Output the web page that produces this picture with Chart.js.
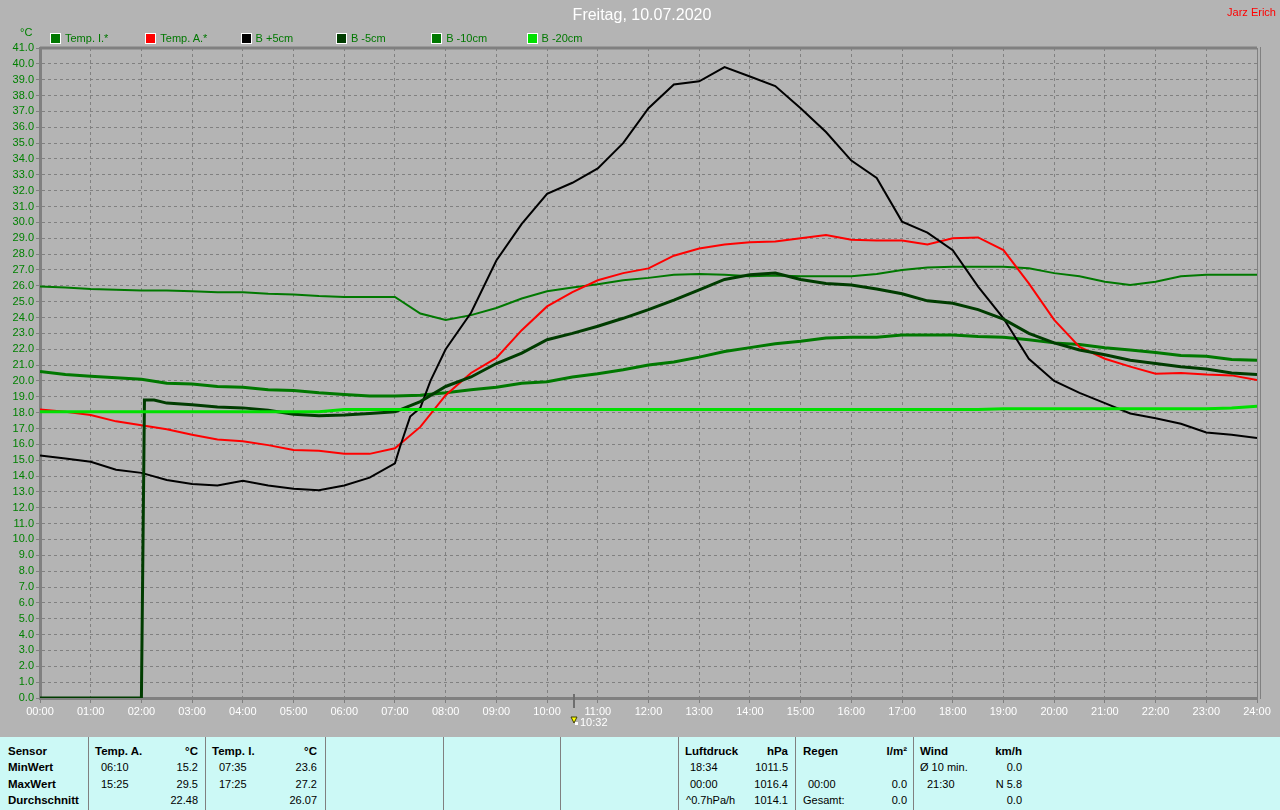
<!DOCTYPE html>
<html>
<head>
<meta charset="utf-8">
<script src="https://cdn.jsdelivr.net/npm/chart.js@4"></script>
<style>
body{margin:0;background:#b4b4b4;width:1280px;height:810px;overflow:hidden;position:relative;font-family:"Liberation Sans",Arial,sans-serif;}
#wrap{position:absolute;left:0;top:0;width:1280px;height:737px;}
.t{position:absolute;white-space:nowrap;line-height:14px;}
#title{left:0;width:1284px;top:6px;text-align:center;color:#fff;font-size:16px;line-height:18px;}
#author{right:4px;top:5px;color:#f00;font-size:11px;}
#unit{left:20px;top:25px;color:#008000;font-size:11px;}
.lbox{position:absolute;width:9px;height:9px;border:1px solid #fff;top:33px;}
.ltxt{position:absolute;top:31px;color:#007800;font-size:11px;line-height:14px;white-space:nowrap;}
#table{position:absolute;left:0;top:737px;width:1280px;height:73px;background:#ccf9f6;font-size:11px;color:#000;}
.sep{position:absolute;top:0;width:1px;height:73px;background:#808080;}
.b{font-weight:bold;font-size:11.5px;}
.r{text-align:right;}
</style>
</head>
<body>
<div id="wrap"><canvas id="myChart" width="1280" height="737"></canvas></div>
<div class="t" id="title">Freitag, 10.07.2020</div>
<div class="t" id="author">Jarz Erich</div>
<div class="t" id="unit">°C</div>
<div id="legend"></div>

<div id="table">
  <div class="sep" style="left:88px"></div>
  <div class="sep" style="left:205px"></div>
  <div class="sep" style="left:325px"></div>
  <div class="sep" style="left:443px"></div>
  <div class="sep" style="left:560px"></div>
  <div class="sep" style="left:678px"></div>
  <div class="sep" style="left:795px"></div>
  <div class="sep" style="left:913px"></div>

  <div class="t b" style="left:8px;top:7px">Sensor</div>
  <div class="t b" style="left:8px;top:23px">MinWert</div>
  <div class="t b" style="left:8px;top:40px">MaxWert</div>
  <div class="t b" style="left:8px;top:56px">Durchschnitt</div>

  <div class="t b" style="left:95px;top:7px">Temp. A.</div>
  <div class="t b r" style="right:1082px;top:7px">°C</div>
  <div class="t" style="left:101px;top:23px">06:10</div>
  <div class="t r" style="right:1082px;top:23px">15.2</div>
  <div class="t" style="left:101px;top:40px">15:25</div>
  <div class="t r" style="right:1082px;top:40px">29.5</div>
  <div class="t r" style="right:1082px;top:56px">22.48</div>

  <div class="t b" style="left:212px;top:7px">Temp. I.</div>
  <div class="t b r" style="right:963px;top:7px">°C</div>
  <div class="t" style="left:219px;top:23px">07:35</div>
  <div class="t r" style="right:963px;top:23px">23.6</div>
  <div class="t" style="left:219px;top:40px">17:25</div>
  <div class="t r" style="right:963px;top:40px">27.2</div>
  <div class="t r" style="right:963px;top:56px">26.07</div>

  <div class="t b" style="left:685px;top:7px">Luftdruck</div>
  <div class="t b r" style="right:492px;top:7px">hPa</div>
  <div class="t" style="left:690px;top:23px">18:34</div>
  <div class="t r" style="right:492px;top:23px">1011.5</div>
  <div class="t" style="left:690px;top:40px">00:00</div>
  <div class="t r" style="right:492px;top:40px">1016.4</div>
  <div class="t" style="left:686px;top:56px">^0.7hPa/h</div>
  <div class="t r" style="right:492px;top:56px">1014.1</div>

  <div class="t b" style="left:803px;top:7px">Regen</div>
  <div class="t b r" style="right:373px;top:7px">l/m²</div>
  <div class="t" style="left:808px;top:40px">00:00</div>
  <div class="t r" style="right:373px;top:40px">0.0</div>
  <div class="t" style="left:803px;top:56px">Gesamt:</div>
  <div class="t r" style="right:373px;top:56px">0.0</div>

  <div class="t b" style="left:920px;top:7px">Wind</div>
  <div class="t b r" style="right:258px;top:7px">km/h</div>
  <div class="t" style="left:920px;top:23px">Ø 10 min.</div>
  <div class="t r" style="right:258px;top:23px">0.0</div>
  <div class="t" style="left:927px;top:40px">21:30</div>
  <div class="t r" style="right:258px;top:40px">N 5.8</div>
  <div class="t r" style="right:258px;top:56px">0.0</div>
</div>

<script>
// time axis (hours since midnight)
const hours = [0,0.5,1,1.5,2,2.5,3,3.5,4,4.5,5,5.5,6,6.5,7,7.5,8,8.5,9,9.5,10,10.5,11,11.5,
  12,12.5,13,13.5,14,14.5,15,15.5,16,16.5,17,17.5,18,18.5,19,19.5,20,20.5,21,21.5,22,22.5,23,23.5,24];
const hoursPlus5 = [0,0.5,1,1.5,2,2.5,3,3.5,4,4.5,5,5.5,6,6.5,7,7.1,7.3,7.5,7.7,8,8.5,9,9.5,10,10.5,11,11.5,
  12,12.5,13,13.5,14,14.5,15,15.5,16,16.5,17,17.5,18,18.5,19,19.5,20,20.5,21,21.5,22,22.5,23,23.5,24];
const hoursMinus5 = [0,2,2.06,2.25,2.5,3,3.5,4,4.5,5,5.5,6,6.5,7,7.5,8,8.5,9,9.5,10,10.5,11,11.5,
  12,12.5,13,13.5,14,14.5,15,15.5,16,16.5,17,17.5,18,18.5,19,19.5,20,20.5,21,21.5,22,22.5,23,23.5,24];

// series values in °C
const tempI = [25.95,25.9,25.8,25.75,25.7,25.7,25.65,25.6,25.6,25.5,25.45,25.35,25.3,25.3,25.3,24.25,23.85,24.15,
  24.6,25.2,25.65,25.9,26.1,26.35,26.5,26.7,26.75,26.7,26.6,26.65,26.6,26.6,26.6,26.75,27.0,27.15,27.2,27.2,
  27.2,27.1,26.8,26.6,26.25,26.05,26.25,26.6,26.7,26.7,26.7];
const tempA = [18.2,18.05,17.85,17.45,17.2,16.95,16.6,16.3,16.2,15.95,15.65,15.6,15.4,15.4,15.75,17.1,19.1,20.5,
  21.45,23.2,24.7,25.6,26.35,26.8,27.1,27.9,28.35,28.6,28.75,28.8,29.0,29.2,28.9,28.85,28.85,28.6,29.0,29.05,
  28.25,26.15,23.85,22.15,21.4,20.9,20.45,20.5,20.4,20.35,20.05];
const soilPlus5 = [15.3,15.1,14.9,14.4,14.2,13.75,13.5,13.4,13.7,13.4,13.2,13.1,13.4,13.9,14.8,15.85,17.75,18.3,20.0,
  22.0,24.3,27.6,29.9,31.8,32.5,33.4,35.0,37.2,38.7,38.9,39.8,39.2,38.6,37.2,35.7,33.9,32.8,30.05,29.35,28.25,
  25.95,23.95,21.4,20.0,19.25,18.6,17.95,17.65,17.3,16.75,16.6,16.4];
const soilMinus5 = [0,0,18.8,18.8,18.6,18.5,18.35,18.3,18.15,17.9,17.8,17.85,17.95,18.05,18.7,19.65,20.25,21.1,
  21.75,22.6,23.0,23.45,23.95,24.5,25.1,25.75,26.4,26.7,26.8,26.4,26.15,26.05,25.8,25.5,25.05,24.9,24.5,23.9,
  23.0,22.4,21.95,21.65,21.3,21.1,20.9,20.75,20.5,20.4];
const soilMinus10 = [20.6,20.4,20.3,20.2,20.1,19.85,19.8,19.65,19.6,19.45,19.4,19.25,19.15,19.05,19.05,19.1,19.25,
  19.45,19.6,19.85,19.95,20.25,20.45,20.7,21.0,21.2,21.5,21.85,22.1,22.35,22.5,22.7,22.75,22.75,22.9,22.9,22.9,
  22.8,22.75,22.6,22.4,22.3,22.1,21.95,21.8,21.6,21.55,21.35,21.3];
const soilMinus20 = [18.05,18.05,18.05,18.05,18.05,18.05,18.05,18.05,18.05,18.05,18.05,18.05,
  18.2,18.2,18.2,18.2,18.2,18.2,18.2,18.2,18.2,18.2,18.2,18.2,18.2,18.2,18.2,18.2,18.2,18.2,18.2,18.2,18.2,
  18.2,18.2,18.2,18.2,18.2,18.25,18.25,18.25,18.25,18.25,18.25,18.25,18.25,18.25,18.3,18.4];

const seriesNames = ["Temp. I.*","Temp. A.*","B +5cm","B -5cm","B -10cm","B -20cm"];
const yMin = 0, yMax = 41;
const markerHour = 10 + 32/60;
const markerLabel = "10:32";

function pts(xs, ys){
  return xs.map((x, i) => ({x: x, y: ys[i]}));
}

const series = [
  {label: seriesNames[0], data: pts(hours, tempI), color: "#007800", width: 2, order: 6},
  {label: seriesNames[1], data: pts(hours, tempA), color: "#ff0000", width: 2, order: 4},
  {label: seriesNames[2], data: pts(hoursPlus5, soilPlus5), color: "#000000", width: 2, order: 3},
  {label: seriesNames[3], data: pts(hoursMinus5, soilMinus5), color: "#003c00", width: 3, order: 2},
  {label: seriesNames[4], data: pts(hours, soilMinus10), color: "#007800", width: 3, order: 5},
  {label: seriesNames[5], data: pts(hours, soilMinus20), color: "#00e000", width: 3, order: 1}
];

/* legend */
const legend = document.querySelector("#legend");
series.forEach((s, i) => {
  const left = 50 + i * 95.3;
  legend.innerHTML += '<div class="lbox" style="left:' + left + 'px;background:' + s.color + '"></div>'
    + '<div class="ltxt" style="left:' + (left + 15) + 'px">' + s.label + '</div>';
});

/* frame + current time marker */
const framePlugin = {
  id: "frame",
  afterDraw(chart){
    const {ctx, chartArea: a, scales} = chart;
    ctx.save();
    ctx.strokeStyle = "#808080";
    ctx.lineWidth = 3;
    ctx.beginPath(); ctx.moveTo(a.left, a.top); ctx.lineTo(a.right, a.top); ctx.stroke();
    ctx.lineWidth = 1;
    ctx.beginPath();
    ctx.moveTo(a.right + 0.5, a.top); ctx.lineTo(a.right + 0.5, a.bottom);
    ctx.moveTo(a.right + 3.5, a.top - 1); ctx.lineTo(a.right + 3.5, a.bottom + 1);
    ctx.stroke();
    const mx = Math.round(scales.x.getPixelForValue(markerHour));
    ctx.lineWidth = 2;
    ctx.strokeStyle = "#6e6e6e";
    ctx.beginPath(); ctx.moveTo(mx, a.bottom - 4); ctx.lineTo(mx, a.bottom + 10); ctx.stroke();
    // small arrow icon
    ctx.fillStyle = "#ffff00";
    ctx.strokeStyle = "#404000";
    ctx.lineWidth = 1;
    ctx.beginPath();
    ctx.moveTo(mx - 3, a.bottom + 19); ctx.lineTo(mx + 3, a.bottom + 19); ctx.lineTo(mx, a.bottom + 25);
    ctx.closePath(); ctx.fill(); ctx.stroke();
    ctx.fillStyle = "#ffffff";
    ctx.fillRect(mx + 1, a.bottom + 24, 3, 3);
    ctx.font = "11px 'Liberation Sans', Arial, sans-serif";
    ctx.textBaseline = "middle";
    ctx.fillText(markerLabel, mx + 6, a.bottom + 25);
    ctx.restore();
  }
};

const config = {
  type: "line",
  data: {
    datasets: series.map(s => ({
      label: s.label,
      data: s.data,
      borderColor: s.color,
      backgroundColor: s.color,
      borderWidth: s.width,
      pointRadius: 0,
      tension: 0,
      fill: false,
      order: s.order
    }))
  },
  options: {
    responsive: false,
    animation: false,
    devicePixelRatio: 1,
    layout: {padding: {top: 48, right: 23, left: 0, bottom: 0}},
    plugins: {legend: {display: false}, tooltip: {enabled: false}},
    scales: {
      x: {
        type: "linear",
        min: 0, max: 24,
        afterFit(scale){ scale.height = 39; },
        ticks: {
          stepSize: 1, autoSkip: false, maxRotation: 0, color: "#ffffff", padding: 2,
          font: {family: "'Liberation Sans', Arial, sans-serif", size: 11},
          callback: v => String(v).padStart(2, "0") + ":00"
        },
        grid: {color: "#808080", lineWidth: 1, tickLength: 5, tickColor: "#808080"},
        border: {color: "#808080", width: 3, dash: [3, 3]}
      },
      y: {
        min: yMin, max: yMax,
        afterFit(scale){ scale.width = 40; },
        ticks: {
          stepSize: 1, autoSkip: false, color: "#008000", padding: 2,
          font: {family: "'Liberation Sans', Arial, sans-serif", size: 11},
          callback: v => v.toFixed(1)
        },
        grid: {color: "#808080", lineWidth: 1, tickLength: 4, tickColor: "#808080"},
        border: {color: "#808080", width: 3, dash: [3, 3]}
      }
    }
  },
  plugins: [framePlugin]
};

const ctx = document.getElementById("myChart").getContext("2d");
const myChart = new Chart(ctx, config);
</script>
</body>
</html>
